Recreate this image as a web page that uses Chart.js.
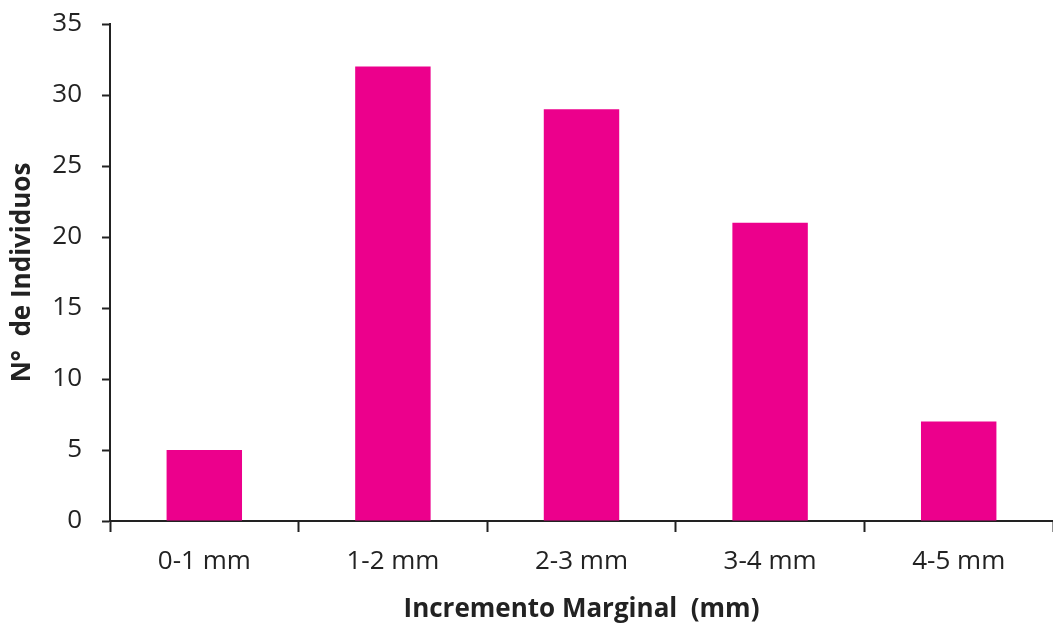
<!DOCTYPE html>
<html>
<head>
<meta charset="utf-8">
<script src="https://cdn.jsdelivr.net/npm/chart.js@4"></script>
<style>
  html, body { margin: 0; padding: 0; background: #fff; }
  #wrap { width: 1053px; height: 623px; position: relative; }
</style>
</head>
<body>
<div id="wrap"><canvas id="chart"></canvas></div>
<script>
// === DATA ===
var CATEGORIES = ['0-1 mm', '1-2 mm', '2-3 mm', '3-4 mm', '4-5 mm'];
var COUNTS     = [5, 32, 29, 21, 7];
var Y_MAX      = 35;
var Y_STEP     = 5;

var FONT_FAMILY = '"Open Sans", sans-serif';
var TEXT_COLOR  = '#222';
var AXIS_COLOR  = '#222';

new Chart(document.getElementById('chart').getContext('2d'), {
  type: 'bar',
  data: {
    labels: CATEGORIES,
    datasets: [{
      label: 'N° de Individuos',
      data: COUNTS,
      backgroundColor: '#EC008C',
      borderWidth: 0,
      barPercentage: 1,
      categoryPercentage: 0.4
    }]
  },
  options: {
    responsive: true,
    maintainAspectRatio: false,
    animation: false,
    layout: { padding: { top: 24, right: 0, left: 0, bottom: 0 } },
    plugins: {
      legend: { display: false },
      tooltip: { enabled: false }
    },
    scales: {
      x: {
        offset: true,
        grid: {
          offset: true,
          drawOnChartArea: false,
          drawTicks: true,
          tickLength: 11,
          tickWidth: 2,
          tickColor: AXIS_COLOR
        },
        border: { color: AXIS_COLOR, width: 2 },
        ticks: { color: TEXT_COLOR, padding: 14, font: { family: FONT_FAMILY, size: 26 } },
        title: {
          display: true,
          text: 'Incremento Marginal  (mm)',
          color: TEXT_COLOR,
          padding: { top: 0, bottom: 0 },
          font: { family: FONT_FAMILY, size: 26, weight: 'bold', lineHeight: 1 }
        },
        afterFit: function (s) { s.height = 102; s.paddingLeft = 0; s.paddingRight = 0; }
      },
      y: {
        min: 0,
        max: Y_MAX,
        ticks: { stepSize: Y_STEP, color: TEXT_COLOR, padding: 20, font: { family: FONT_FAMILY, size: 26 } },
        grid: {
          drawOnChartArea: false,
          drawTicks: true,
          tickLength: 8,
          tickWidth: 2,
          tickColor: AXIS_COLOR
        },
        border: { color: AXIS_COLOR, width: 2 },
        title: {
          display: true,
          text: 'N°  de Individuos',
          color: TEXT_COLOR,
          padding: { top: 10, bottom: 10 },
          font: { family: FONT_FAMILY, size: 26, weight: 'bold', lineHeight: 1 }
        },
        afterFit: function (s) { s.width = 110; s.paddingTop = 0; s.paddingBottom = 0; }
      }
    }
  }
});
</script>
</body>
</html>
